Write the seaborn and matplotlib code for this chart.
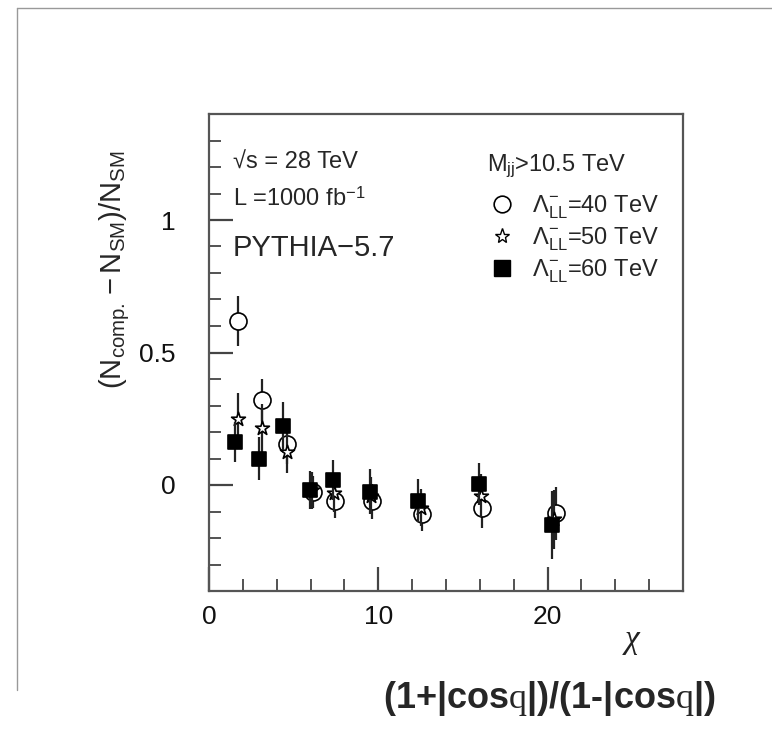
import matplotlib
matplotlib.use("Agg")
import matplotlib.pyplot as plt
import numpy as np
import pandas as pd
import seaborn as sns
from matplotlib.lines import Line2D
from matplotlib.ticker import MultipleLocator

# Deviation from the Standard Model in bins of chi, for three contact-interaction scales
chi_40 = [1.71, 3.13, 4.59, 6.16, 7.44, 9.60, 12.60, 16.10, 20.50]
dev_40 = [0.620, 0.320, 0.155, -0.025, -0.060, -0.062, -0.108, -0.088, -0.107]
err_40 = [0.095, 0.080, 0.075, 0.060, 0.065, 0.065, 0.065, 0.075, 0.100]

chi_50 = [1.71, 3.13, 4.60, 6.10, 7.40, 9.55, 12.50, 16.05, 20.40]
dev_50 = [0.248, 0.216, 0.126, -0.020, -0.030, -0.040, -0.085, -0.040, -0.130]
err_50 = [0.100, 0.090, 0.080, 0.070, 0.070, 0.070, 0.070, 0.080, 0.110]

chi_60 = [1.54, 2.97, 4.39, 5.96, 7.30, 9.50, 12.36, 15.97, 20.24]
dev_60 = [0.163, 0.100, 0.223, -0.019, 0.019, -0.025, -0.059, 0.004, -0.151]
err_60 = [0.075, 0.080, 0.090, 0.070, 0.075, 0.085, 0.080, 0.080, 0.130]

labels = [r"$\mathsf{\Lambda^{-}_{LL}}$=40 TeV",
          r"$\mathsf{\Lambda^{-}_{LL}}$=50 TeV",
          r"$\mathsf{\Lambda^{-}_{LL}}$=60 TeV"]

x_ticks = [0, 10, 20]
y_ticks = [0, 0.5, 1]
y_tick_labels = ["0", "0.5", "1"]

sns.set_theme(style="ticks")
plt.rcParams["font.family"] = ["Liberation Sans", "DejaVu Sans"]
plt.rcParams["mathtext.fontset"] = "custom"
plt.rcParams["mathtext.rm"] = "Liberation Serif"
plt.rcParams["mathtext.it"] = "Liberation Serif:italic"
plt.rcParams["mathtext.sf"] = "Liberation Sans"
plt.rcParams["mathtext.bf"] = "Liberation Sans:bold"

W, H = 772, 736
fig = plt.figure(figsize=(W / 100, H / 100), dpi=100)
fig.patch.set_facecolor("white")
ax = fig.add_axes([209 / W, 1 - 591 / H, (683 - 209) / W, (591 - 114) / H])
ax.set_facecolor("white")

series = [
    (chi_40, dev_40, err_40, "o", "white", 150, labels[0]),
    (chi_50, dev_50, err_50, "*", "white", 110, labels[1]),
    (chi_60, dev_60, err_60, "s", "black", 115, labels[2]),
]
for z, (cx, cy, ce, mk, fc, size, lab) in enumerate(series):
    ax.errorbar(cx, cy, yerr=ce, fmt="none", ecolor="#222222",
                elinewidth=1.6, capsize=0, zorder=2 + 2 * z)
    sns.scatterplot(x=cx, y=cy, marker=mk, s=size, color=fc,
                    edgecolor="black", linewidth=1.2, ax=ax,
                    zorder=3 + 2 * z, label=lab, legend=False)

ax.set_xlim(0, 28)
ax.set_ylim(-0.4, 1.4)
ax.xaxis.set_major_locator(plt.FixedLocator(x_ticks))
ax.xaxis.set_minor_locator(MultipleLocator(2))
ax.yaxis.set_major_locator(plt.FixedLocator(y_ticks))
ax.yaxis.set_minor_locator(MultipleLocator(0.1))
ax.set_yticklabels(y_tick_labels)
ax.tick_params(which="both", direction="in", top=False, right=False,
               colors="#444444", labelcolor="#111111", labelsize=19)
ax.tick_params(which="major", length=17, width=1.6)
ax.tick_params(which="minor", length=8.5, width=1.3)
ax.tick_params(axis="x", pad=10)
ax.tick_params(axis="y", pad=24)
for sp in ax.spines.values():
    sp.set_visible(True)
    sp.set_color("#555555")
    sp.set_linewidth(1.6)

ax.set_xlabel(r"$\chi$", fontsize=24, color="#222222")
ax.xaxis.set_label_coords((632 - 209) / 474, -(626 - 591) / 477)
ax.set_ylabel(r"$\mathsf{(N_{comp.}-N_{SM})/N_{SM}}$", fontsize=21)
ax.yaxis.set_label_coords(-(209 - 132) / 474, (591 - 270) / 477)

# run conditions
ax.text(0.05, 1 - (163 - 114) / 477, "√s = 28 TeV", transform=ax.transAxes,
        fontsize=17, va="center", ha="left")
ax.text(0.05, 1 - (199 - 114) / 477, r"L =1000 fb$^{\mathsf{-1}}$",
        transform=ax.transAxes, fontsize=17, va="center", ha="left")
ax.text(0.05, 1 - (248 - 114) / 477, "PYTHIA−5.7", transform=ax.transAxes,
        fontsize=21, va="center", ha="left")

handles = [
    Line2D([], [], marker="o", ls="none", mfc="white", mec="black", ms=12, mew=1.2),
    Line2D([], [], marker="*", ls="none", mfc="white", mec="black", ms=11, mew=1.0),
    Line2D([], [], marker="s", ls="none", mfc="black", mec="black", ms=11),
]
leg = ax.legend(handles, labels, title=r"M$_{\mathsf{jj}}$>10.5 TeV",
                loc="upper left", bbox_to_anchor=((478 - 209) / 474, 1 - (143 - 114) / 477),
                frameon=False, fontsize=17, title_fontsize=17,
                handlelength=1.2, handletextpad=0.7, labelspacing=0.2,
                borderaxespad=0, alignment="left")
leg._legend_box.sep = 10

fig.text(383 / W, 1 - 699 / H, r"(1+|cos$\mathrm{q}$|)/(1-|cos$\mathrm{q}$|)",
         fontsize=26, fontweight="bold", ha="left", va="center")

# thin frame along the top and left of the page
fig.add_artist(Line2D([17 / W, 1], [1 - 8 / H, 1 - 8 / H], color="#999999", lw=1))
fig.add_artist(Line2D([17 / W, 17 / W], [1 - 8 / H, 1 - 690 / H], color="#999999", lw=1))

fig.savefig("out.png", dpi=100)
